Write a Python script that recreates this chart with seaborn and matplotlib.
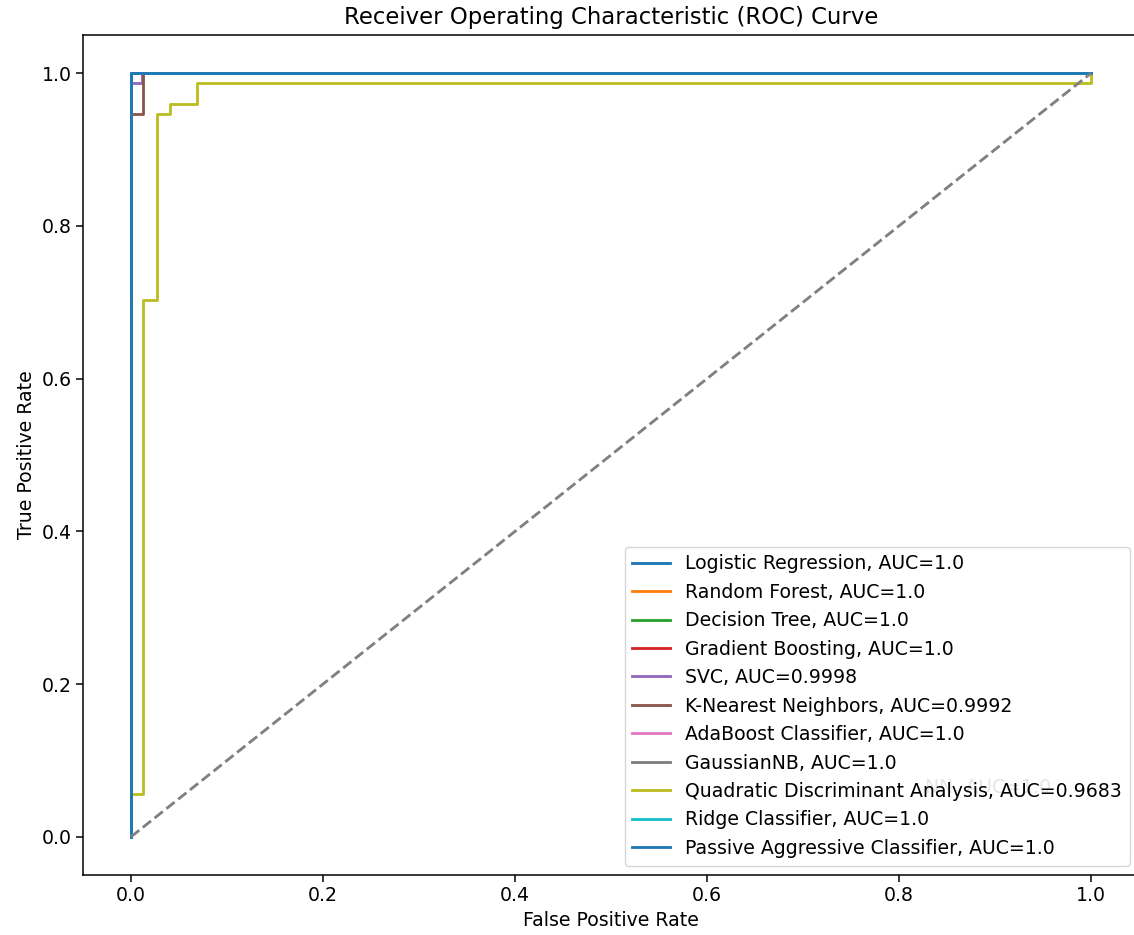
import matplotlib
matplotlib.use("Agg")
import matplotlib.pyplot as plt
import seaborn as sns

# ROC points (false positive rate, true positive rate) for each classifier
models = [
    "Logistic Regression", "Random Forest", "Decision Tree", "Gradient Boosting",
    "SVC", "K-Nearest Neighbors", "AdaBoost Classifier", "GaussianNB",
    "Quadratic Discriminant Analysis", "Ridge Classifier",
    "Passive Aggressive Classifier",
]
auc_scores = [1.0, 1.0, 1.0, 1.0, 0.9998, 0.9992, 1.0, 1.0, 0.9683, 1.0, 1.0]

perfect_fpr = [0.0, 0.0, 1.0]
perfect_tpr = [0.0, 1.0, 1.0]

svc_fpr = [0.0, 0.0, 0.011, 0.011, 1.0]
svc_tpr = [0.0, 0.987, 0.987, 1.0, 1.0]

knn_fpr = [0.0, 0.0, 0.013, 0.013, 1.0]
knn_tpr = [0.0, 0.947, 0.947, 1.0, 1.0]

qda_fpr = [0.0, 0.0, 0.012, 0.012, 0.027, 0.027, 0.041, 0.041, 0.069, 0.069, 1.0, 1.0]
qda_tpr = [0.0, 0.056, 0.056, 0.703, 0.703, 0.946, 0.946, 0.960, 0.960, 0.987, 0.987, 1.0]

fpr_list = [perfect_fpr, perfect_fpr, perfect_fpr, perfect_fpr, svc_fpr, knn_fpr,
            perfect_fpr, perfect_fpr, qda_fpr, perfect_fpr, perfect_fpr]
tpr_list = [perfect_tpr, perfect_tpr, perfect_tpr, perfect_tpr, svc_tpr, knn_tpr,
            perfect_tpr, perfect_tpr, qda_tpr, perfect_tpr, perfect_tpr]

S = 1.364  # scale from the 100-dpi defaults
plt.rcParams.update({
    "font.family": ["DejaVu Sans"],
    "font.size": 10 * S,
    "axes.linewidth": 0.8 * S,
    "xtick.major.size": 3.5 * S,
    "ytick.major.size": 3.5 * S,
    "xtick.major.width": 0.8 * S,
    "ytick.major.width": 0.8 * S,
    "xtick.labelsize": 10 * S,
    "ytick.labelsize": 10 * S,
    "axes.labelsize": 10 * S,
    "axes.titlesize": 12 * S,
    "legend.fontsize": 10 * S,
})

W, H = 1134, 935
fig = plt.figure(figsize=(W / 100, H / 100), dpi=100)
ax = fig.add_axes([83 / W, 60 / H, (1139 - 83) / W, 840 / H])

palette = sns.color_palette("tab10", 10)
for i, (name, auc, fpr, tpr) in enumerate(zip(models, auc_scores, fpr_list, tpr_list)):
    sns.lineplot(x=fpr, y=tpr, ax=ax, estimator=None, sort=False,
                 color=palette[i % 10], linewidth=1.5 * S,
                 label=f"{name}, AUC={auc}")

ax.plot([0, 1], [0, 1], color="gray", linestyle="--", linewidth=1.5 * S)

ax.text(0.827, 0.065, "NN, AUC=1.0", color="gray", fontsize=10 * S,
        va="center", ha="left", zorder=1)

ax.set_xlim(-0.05, 1.05)
ax.set_ylim(-0.05, 1.05)
ax.set_xlabel("False Positive Rate")
ax.set_ylabel("True Positive Rate")
ax.set_title("Receiver Operating Characteristic (ROC) Curve", pad=6 * S)
leg = ax.legend(loc="lower right")
leg.set_zorder(5)

fig.savefig("out.png", dpi=100)
